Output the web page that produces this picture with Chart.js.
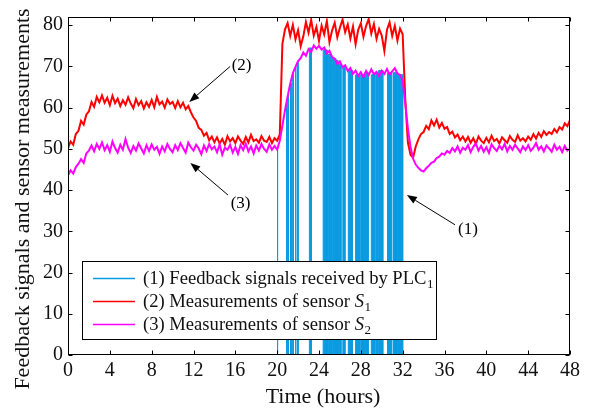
<!DOCTYPE html>
<html>
<head>
<meta charset="utf-8">
<script src="https://cdn.jsdelivr.net/npm/chart.js@4.4.0/dist/chart.umd.min.js"></script>
<style>
  html, body { margin: 0; padding: 0; background: #fff; }
</style>
</head>
<body>
<canvas id="plc-chart" width="599" height="410"></canvas>
<script>
// logged every quarter hour
const sampleStep = 0.25;

// (2) sensor S1, 0..48 h
const sensor1 = [
  50.2, 51.8, 51.0, 53.6, 54.4, 56.8, 55.9, 58.3,
  59.1, 61.4, 60.2, 62.6, 61.3, 63.0, 61.2, 62.4,
  60.6, 62.9, 61.1, 62.2, 60.4, 61.8, 60.7, 62.5,
  61.0, 59.9, 62.1, 60.6, 61.6, 59.8, 61.3, 60.2,
  61.9, 60.1, 62.6, 60.8, 61.5, 60.0, 62.0, 60.9,
  61.4, 59.9, 61.6, 60.1, 61.2, 59.6, 60.4, 58.9,
  57.6, 56.8, 55.1, 54.6, 53.2, 53.9, 52.1, 53.0,
  51.6, 52.8, 51.3, 52.4, 51.0, 53.1, 51.8, 52.6,
  51.4, 53.0, 52.0, 51.2, 52.9, 51.6, 53.4, 51.9,
  52.3, 51.5, 53.1, 52.0, 51.7, 52.9, 51.4, 52.6,
  52.0, 53.5, 75.5, 79.0, 80.5, 77.4, 80.1, 76.6,
  78.8, 74.9, 77.3, 80.8, 78.2, 81.3, 77.5, 79.6,
  76.2, 79.9, 77.8, 81.0, 75.9, 78.7, 80.6, 77.1,
  79.4, 81.4, 78.3, 80.2, 76.8, 79.7, 75.4, 78.9,
  80.5, 77.2, 79.8, 81.5, 78.0, 80.3, 76.7, 79.1,
  77.5, 73.8, 78.9, 80.7, 77.4, 79.9, 76.3, 79.2,
  77.8, 62.0, 51.5, 48.6, 47.9, 50.6, 52.3, 53.6,
  54.1, 55.6, 54.8, 56.9, 55.7, 57.1, 55.2, 56.3,
  54.9, 55.3, 53.6, 54.2, 52.8, 53.5, 52.1, 53.0,
  51.8, 52.9, 51.5, 52.6, 51.2, 53.0, 52.0, 51.4,
  52.7, 51.6, 53.2, 51.9, 52.4, 51.3, 52.8, 52.1,
  51.5, 53.1, 52.2, 51.7, 53.3, 52.0, 52.6, 51.8,
  53.0, 52.2, 53.6, 52.5, 53.9, 52.9, 54.3, 53.4,
  54.1, 53.6, 54.8, 54.0, 55.3, 54.7, 56.2, 55.5,
  57.0
];

// (3) sensor S2, 0..48 h
const sensor2 = [
  43.6, 44.8, 44.0, 45.6, 46.4, 47.5, 46.6, 48.9,
  49.6, 50.8, 49.4, 51.2, 50.0, 51.6, 49.7, 50.9,
  49.3, 51.8, 50.2, 49.1, 51.0, 49.8, 52.4, 50.3,
  49.0, 50.7, 49.6, 51.3, 50.1, 48.9, 50.9, 49.5,
  51.1, 49.8, 50.5, 48.8, 50.6, 49.4, 51.2, 50.0,
  49.2, 50.9, 49.7, 51.4, 50.2, 49.1, 51.5, 50.4,
  49.6, 51.0, 50.1, 48.7, 50.8, 49.5, 51.2, 49.9,
  50.6, 49.2, 51.1, 48.6, 50.3, 49.8, 51.0, 49.1,
  50.5, 48.8, 50.9, 49.7, 51.3, 49.4, 50.6, 48.9,
  50.8, 49.6, 51.2, 50.0, 49.3, 51.1, 49.8, 50.7,
  49.8, 52.0, 55.6, 59.4, 62.7, 65.8, 68.4, 69.9,
  71.3, 72.0, 73.4, 72.6, 74.2, 73.5, 75.1, 74.3,
  75.0, 74.1, 74.6, 73.2, 73.8, 72.3, 71.9, 70.6,
  71.2, 69.8, 70.3, 68.9, 69.6, 68.2, 69.0, 67.7,
  68.6, 67.4, 68.9, 67.9, 69.3, 68.1, 68.7, 67.6,
  69.0, 68.2, 69.4, 68.0, 68.8, 69.6, 68.3, 67.9,
  66.5, 61.0, 55.0, 50.5, 47.6, 46.2, 45.4, 44.8,
  44.5, 45.3, 45.9, 46.6, 46.9, 47.8, 48.1, 48.9,
  48.6, 49.5, 49.0, 50.2, 49.4, 50.6, 49.1, 50.3,
  49.8, 50.9, 49.2, 50.5, 51.3, 49.6, 50.7, 49.3,
  50.4, 49.0, 51.1, 50.2, 49.5, 50.8, 49.9, 51.2,
  49.4, 50.7, 49.8, 51.0, 50.1, 49.2, 50.6, 49.7,
  50.9, 49.5, 50.3, 51.4, 49.8, 50.6, 49.4, 50.8,
  50.1, 49.3, 51.0, 49.8, 50.5, 49.2, 50.7, 49.6,
  50.0
];

// (1) feedback pulses received by the PLC
const pulseStart = [20.00, 20.85, 21.00, 21.28, 21.48, 21.72, 21.92, 23.08, 24.40, 24.90, 25.30, 25.62,
                    25.85, 26.28, 26.80, 27.50, 28.00, 28.35, 29.00, 29.42, 29.70, 30.55, 31.08, 31.50];
const pulseEnd   = [20.06, 20.92, 21.06, 21.34, 21.56, 21.80, 22.00, 23.28, 24.80, 25.20, 25.55, 25.80,
                    26.10, 26.48, 27.20, 27.90, 28.25, 28.70, 29.30, 29.60, 30.10, 30.90, 31.40, 32.00];
const pulseLevel = [50.0, 61.0, 63.0, 66.0, 68.5, 70.0, 71.0, 74.5, 74.0, 73.0, 72.0, 71.5,
                    70.5, 70.0, 69.0, 68.0, 68.0, 68.5, 68.0, 68.5, 69.0, 68.5, 68.5, 68.0];

const xTicks = [0, 4, 8, 12, 16, 20, 24, 28, 32, 36, 40, 44, 48];
const yTicks = [0, 10, 20, 30, 40, 50, 60, 70, 80];

const legendRows = [
  { color: '#0b9be0', text: '(1) Feedback signals received by PLC', italic: '', sub: '1' },
  { color: '#ff0000', text: '(2) Measurements of sensor ', italic: 'S', sub: '1' },
  { color: '#ff00ff', text: '(3) Measurements of sensor ', italic: 'S', sub: '2' }
];

// arrows pointing at each trace: tail, tip and label, in hours / values
const arrowNotes = [
  { label: '(2)', tail: [15.5, 70.0], tip: [11.6, 61.4], at: [16.6, 70.3] },
  { label: '(3)', tail: [15.3, 38.8], tip: [11.7, 46.6], at: [16.5, 36.8] },
  { label: '(1)', tail: [37.0, 31.6], tip: [32.4, 38.8], at: [38.25, 30.4] }
];

const serif = 'Liberation Serif';

const toPoints = arr => arr.map((v, i) => ({ x: i * sampleStep, y: v }));

const pulsePoints = [];
pulseStart.forEach((s, i) => {
  pulsePoints.push({ x: s, y: 0 }, { x: s, y: pulseLevel[i] },
                   { x: pulseEnd[i], y: pulseLevel[i] }, { x: pulseEnd[i], y: 0 });
});

// box, inward ticks, arrows, legend and axis titles
const decorations = {
  id: 'decorations',
  afterDatasetsDraw(chart) {
    const { ctx, chartArea: a, scales: { x, y } } = chart;
    ctx.save();
    ctx.strokeStyle = '#000';
    ctx.lineWidth = 1;
    const L = Math.round(a.left) + 0.5, R = Math.round(a.right) - 0.5;
    const T = Math.round(a.top) + 0.5, B = Math.round(a.bottom) - 0.5;
    ctx.strokeRect(L, T, R - L, B - T);

    ctx.beginPath();
    xTicks.forEach(v => {
      const px = Math.round(x.getPixelForValue(v)) + 0.5;
      ctx.moveTo(px, B); ctx.lineTo(px, B - 4);
      ctx.moveTo(px, T); ctx.lineTo(px, T + 4);
    });
    yTicks.forEach(v => {
      const py = Math.round(y.getPixelForValue(v)) + 0.5;
      ctx.moveTo(L, py); ctx.lineTo(L + 4, py);
      ctx.moveTo(R, py); ctx.lineTo(R - 4, py);
    });
    ctx.stroke();

    // annotation arrows
    ctx.fillStyle = '#000';
    ctx.font = '17px "' + serif + '"';
    ctx.textAlign = 'center';
    ctx.textBaseline = 'middle';
    arrowNotes.forEach(n => {
      const x0 = x.getPixelForValue(n.tail[0]), y0 = y.getPixelForValue(n.tail[1]);
      const x1 = x.getPixelForValue(n.tip[0]), y1 = y.getPixelForValue(n.tip[1]);
      const ang = Math.atan2(y1 - y0, x1 - x0);
      const hl = 10, hw = 3.8;
      const bx = x1 - hl * Math.cos(ang), by = y1 - hl * Math.sin(ang);
      ctx.beginPath();
      ctx.moveTo(x0, y0); ctx.lineTo(bx, by);
      ctx.stroke();
      ctx.beginPath();
      ctx.moveTo(x1, y1);
      ctx.lineTo(bx + hw * Math.sin(ang), by - hw * Math.cos(ang));
      ctx.lineTo(bx - hw * Math.sin(ang), by + hw * Math.cos(ang));
      ctx.closePath();
      ctx.fill();
      ctx.fillText(n.label, x.getPixelForValue(n.at[0]), y.getPixelForValue(n.at[1]));
    });

    // legend box
    const bx0 = 82.5, by0 = 261.5, bw = 354, bh = 78;
    ctx.fillStyle = '#fff';
    ctx.fillRect(bx0, by0, bw, bh);
    ctx.strokeRect(bx0, by0, bw, bh);
    ctx.textAlign = 'left';
    ctx.textBaseline = 'alphabetic';
    legendRows.forEach((row, i) => {
      const cy = 278 + i * 23;
      ctx.strokeStyle = row.color;
      ctx.lineWidth = 1.5;
      ctx.beginPath();
      ctx.moveTo(93, cy + 0.5); ctx.lineTo(135, cy + 0.5);
      ctx.stroke();
      let tx = 143;
      const base = cy + 6;
      ctx.fillStyle = '#111';
      ctx.font = '18.6px "' + serif + '"';
      ctx.fillText(row.text, tx, base);
      tx += ctx.measureText(row.text).width;
      if (row.italic) {
        ctx.font = 'italic 18.6px "' + serif + '"';
        ctx.fillText(row.italic, tx, base);
        tx += ctx.measureText(row.italic).width;
      }
      ctx.font = '13px "' + serif + '"';
      ctx.fillText(row.sub, tx + 0.5, base + 4);
    });

    // axis titles
    ctx.fillStyle = '#111';
    ctx.font = '22px "' + serif + '"';
    ctx.textAlign = 'center';
    ctx.textBaseline = 'middle';
    ctx.fillText('Time (hours)', (a.left + a.right) / 2 + 4, 397);
    ctx.translate(23, 199);
    ctx.rotate(-Math.PI / 2);
    ctx.fillText('Feedback signals and sensor measurements', 0, 0);
    ctx.restore();
  }
};

const tickFont = { family: serif, size: 20 };

const config = {
  type: 'line',
  data: {
    datasets: [
      {
        label: 'Feedback signals received by PLC1',
        data: pulsePoints,
        borderColor: '#0b9be0',
        backgroundColor: '#0b9be0',
        borderWidth: 1,
        fill: 'origin',
        order: 3
      },
      {
        label: 'Measurements of sensor S1',
        data: toPoints(sensor1),
        borderColor: '#ff0000',
        borderWidth: 2,
        fill: false,
        order: 2
      },
      {
        label: 'Measurements of sensor S2',
        data: toPoints(sensor2),
        borderColor: '#ff00ff',
        borderWidth: 2,
        fill: false,
        order: 1
      }
    ]
  },
  options: {
    responsive: false,
    animation: false,
    parsing: false,
    layout: { padding: { top: 13, right: 29, left: 0, bottom: 0 } },
    elements: { point: { radius: 0 }, line: { tension: 0 } },
    plugins: { legend: { display: false }, tooltip: { enabled: false } },
    scales: {
      x: {
        type: 'linear',
        min: 0,
        max: 48,
        grid: { display: false, drawTicks: false },
        border: { display: false },
        afterBuildTicks: s => { s.ticks = xTicks.map(v => ({ value: v })); },
        afterFit: s => { s.height = 55; },
        ticks: { font: tickFont, color: '#111', padding: 4, maxRotation: 0, autoSkip: false }
      },
      y: {
        type: 'linear',
        min: 0,
        max: 82,
        grid: { display: false, drawTicks: false },
        border: { display: false },
        afterBuildTicks: s => { s.ticks = yTicks.map(v => ({ value: v })); },
        afterFit: s => { s.width = 68; },
        ticks: { font: tickFont, color: '#111', padding: 5, autoSkip: false }
      }
    }
  },
  plugins: [decorations]
};

const ctx = document.getElementById('plc-chart').getContext('2d');
const chart = new Chart(ctx, config);
</script>
</body>
</html>
